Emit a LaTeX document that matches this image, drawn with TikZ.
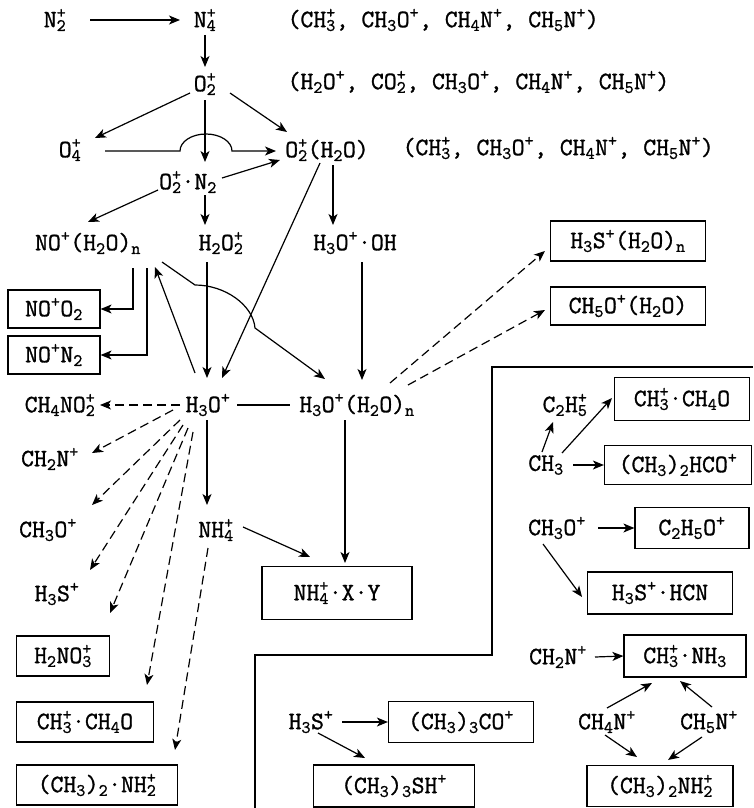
\documentclass[tikz,border=0pt]{standalone}
\usepackage{fontspec}
\setmonofont{Latin Modern Mono}[FakeBold=1.2]
\usetikzlibrary{arrows.meta}
\tikzset{every picture/.style={/utils/exec={\ttfamily}}}
\newcommand{\ilo}[1]{\textsubscript{#1}}
\newcommand{\ihi}[1]{\textsuperscript{#1}}
\newcommand{\ilh}[2]{\textsubscript{#1}\llap{\textsuperscript{#2}}}

\begin{document}
\begin{tikzpicture}[x=1pt, y=-1pt, line width=1.2pt, >={Stealth[length=11pt, width=9pt, inset=3pt]},
    every node/.style={font=\ttfamily\fontsize{25}{29}\selectfont, inner sep=2pt},
    box/.style={draw, inner sep=0pt, minimum height=40pt},
    dsh/.style={->, dash pattern=on 9pt off 5pt}]
    \useasboundingbox (0,0) rectangle (753,808);

    \node (n2) at (55, 20) {N\ilh{2}{+}};
    \node (n4) at (205, 20) {N\ilh{4}{+}};
    \node[anchor=west] (list1) at (285, 20) {(CH\ilh{3}{+}, CH\ilo{3}O\ihi{+}, CH\ilo{4}N\ihi{+}, CH\ilo{5}N\ihi{+})};
    \node (o2) at (205, 84) {O\ilh{2}{+}};
    \node[anchor=west] (list2) at (285, 82) {(H\ilo{2}O\ihi{+}, CO\ilh{2}{+}, CH\ilo{3}O\ihi{+}, CH\ilo{4}N\ihi{+}, CH\ilo{5}N\ihi{+})};
    \node (o4) at (70, 150) {O\ilh{4}{+}};
    \node (o2w) at (327, 150) {O\ilh{2}{+}(H\ilo{2}O)};
    \node[anchor=west] (list3) at (400, 148) {(CH\ilh{3}{+}, CH\ilo{3}O\ihi{+}, CH\ilo{4}N\ihi{+}, CH\ilo{5}N\ihi{+})};
    \node (o2n2) at (188, 182) {O\ilh{2}{+}·N\ilo{2}};
    \node (no) at (88, 243) {NO\ihi{+}(H\ilo{2}O)\ilo{n}};
    \node (h2o2) at (221, 243) {H\ilo{2}O\ilh{2}{+}};
    \node (h3ooh) at (355, 243) {H\ilo{3}O\ihi{+}·OH};
    \node[box, minimum width=155pt] (h3sbox) at (628, 241) {H\ilo{3}S\ihi{+}(H\ilo{2}O)\ilo{n}};
    \node[box, minimum width=155pt, minimum height=38pt] (ch5o) at (628, 306) {CH\ilo{5}O\ihi{+}(H\ilo{2}O)};
    \node[box, minimum width=92pt, minimum height=38pt] (noo2) at (54, 309) {NO\ihi{+}O\ilo{2}};
    \node[box, minimum width=92pt, minimum height=38pt] (non2) at (54, 355) {NO\ihi{+}N\ilo{2}};
    \node (ch4no2) at (60, 405) {CH\ilo{4}NO\ilh{2}{+}};
    \node (h3o) at (208, 405) {H\ilo{3}O\ihi{+}};
    \node (h3ow) at (357, 405) {H\ilo{3}O\ihi{+}(H\ilo{2}O)\ilo{n}};
    \node (ch2n) at (50, 459) {CH\ilo{2}N\ihi{+}};
    \node (ch3o) at (48, 530) {CH\ilo{3}O\ihi{+}};
    \node (h3s) at (57, 594) {H\ilo{3}S\ihi{+}};
    \node (nh4) at (216, 530) {NH\ilh{4}{+}};
    \node[box, minimum width=93pt] (h2no3) at (63, 656) {H\ilo{2}NO\ilh{3}{+}};
    \node[box, minimum width=137pt] (ch3ch4o) at (85, 722) {CH\ilh{3}{+}·CH\ilo{4}O};
    \node[box, minimum width=161pt] (ch32nh2) at (97, 785) {(CH\ilo{3})\ilo{2}·NH\ilh{2}{+}};
    \node[box, minimum width=150pt, minimum height=53pt] (nh4xy) at (337, 593) {NH\ilh{4}{+}·X·Y};

    \node (c2h5) at (565, 405) {C\ilo{2}H\ilh{5}{+}};
    \node[box, minimum width=135pt, minimum height=43pt] (ch3ch4or) at (682, 399) {CH\ilh{3}{+}·CH\ilo{4}O};
    \node (ch3r) at (546, 465) {CH\ilo{3}};
    \node[box, minimum width=147pt, minimum height=39pt] (hco) at (678, 465) {(CH\ilo{3})\ilo{2}HCO\ihi{+}};
    \node (ch3or) at (557, 528) {CH\ilo{3}O\ihi{+}};
    \node[box, minimum width=114pt, minimum height=41pt] (c2h5o) at (692, 528) {C\ilo{2}H\ilo{5}O\ihi{+}};
    \node[box, minimum width=145pt, minimum height=42pt] (hcn) at (660, 593) {H\ilo{3}S\ihi{+}·HCN};
    \node (ch2nr) at (558, 657) {CH\ilo{2}N\ihi{+}};
    \node[box, minimum width=122pt, minimum height=42pt] (nh3) at (685, 656) {CH\ilh{3}{+}·NH\ilo{3}};
    \node (ch4n) at (607, 722) {CH\ilo{4}N\ihi{+}};
    \node (ch5n) at (709, 722) {CH\ilo{5}N\ihi{+}};
    \node[box, minimum width=146pt, minimum height=41pt] (nh2r) at (660, 786) {(CH\ilo{3})\ilo{2}NH\ilh{2}{+}};
    \node (h3sm) at (311, 722) {H\ilo{3}S\ihi{+}};
    \node[box, minimum width=145pt, minimum height=41pt] (co) at (461, 722) {(CH\ilo{3})\ilo{3}CO\ihi{+}};
    \node[box, minimum width=161pt, minimum height=42pt] (sh) at (394, 786) {(CH\ilo{3})\ilo{3}SH\ihi{+}};

    \draw (255, 808) |- (492, 655) |- (753, 367);

    \draw[->] ([shift={(35,0)}]n2.center) -- ([shift={(-25,0)}]n4.center);
    \draw[->] ([shift={(0,15)}]n4.center) -- ([shift={(0,-17)}]o2.center);
    \draw[->] ([shift={(-15,9)}]o2.center) -- ([shift={(25,-12)}]o4.center);
    \draw[->] ([shift={(0,16)}]o2.center) -- ([shift={(17,-20)}]o2n2.center);
    \draw[->] ([shift={(25,9)}]o2.center) -- ([shift={(-40,-18)}]o2w.center);
    \draw[->] ([shift={(35,1)}]o4.center) -- ++(75,0) arc[start angle=180, end angle=0, x radius=26pt, y radius=17pt] -- ([shift={(-51,1)}]o2w.center);
    \draw[->] ([shift={(34,-4)}]o2n2.center) -- ([shift={(-47,10)}]o2w.center);
    \draw[->] ([shift={(-30,8)}]o2n2.center) -- ([shift={(0,-21)}]no.center);
    \draw[->] ([shift={(17,13)}]o2n2.center) -- ([shift={(-16,-18)}]h2o2.center);
    \draw[->] ([shift={(-7,13)}]o2w.center) -- ([shift={(14,-27)}]h3o.center);
    \draw[->] ([shift={(6,15)}]o2w.center) -- ([shift={(-22,-18)}]h3ooh.center);
    \draw[->] ([shift={(45,25)}]no.center) |- (noo2.east);
    \draw[->] ([shift={(59,25)}]no.center) |- (non2.east);
    \draw[->] ([shift={(-13,-32)}]h3o.center) -- ([shift={(67,24)}]no.center);
    \draw[->] ([shift={(-14,19)}]h2o2.center) -- ([shift={(-1,-27)}]h3o.center);
    \draw[->] ([shift={(74,19)}]no.center) -- ++(33,23) .. controls +(30,0) and +(-2,-23) .. ++(60,43) -- ([shift={(-32,-26)}]h3ow.center);
    \draw[->] ([shift={(7,19)}]h3ooh.center) -- ([shift={(5,-25)}]h3ow.center);
    \draw ([shift={(29,0)}]h3o.center) -- ([shift={(-67,0)}]h3ow.center);
    \draw[->] ([shift={(-12,15)}]h3ow.center) -- ([shift={(8,-30)}]nh4xy.center);
    \draw[->] ([shift={(-1,15)}]h3o.center) -- ([shift={(-9,-25)}]nh4.center);
    \draw[->] ([shift={(27,-3)}]nh4.center) -- ([shift={(-27,-36)}]nh4xy.center);

    \draw[dsh] ([shift={(-28,0)}]h3o.center) -- ([shift={(40,0)}]ch4no2.center);
    \draw[dsh] ([shift={(33,-22)}]h3ow.center) -- ([shift={(-83,10)}]h3sbox.center);
    \draw[dsh] ([shift={(51,-20)}]h3ow.center) -- ([shift={(-83,4)}]ch5o.center);
    \draw[dsh] ([shift={(-35,5)}]h3o.center) -- ([shift={(42,-6)}]ch2n.center);
    \draw[dsh] ([shift={(-28,15)}]h3o.center) -- ([shift={(44,-25)}]ch3o.center);
    \draw[dsh] ([shift={(-25,20)}]h3o.center) -- ([shift={(33,-24)}]h3s.center);
    \draw[dsh] ([shift={(-20,23)}]h3o.center) -- ([shift={(47,-43)}]h2no3.center);
    \draw[dsh] ([shift={(-15,27)}]h3o.center) -- ([shift={(62,-37)}]ch3ch4o.center);
    \draw[dsh] ([shift={(-8,18)}]nh4.center) -- ([shift={(78,-35)}]ch32nh2.center);

    \draw[->] ([shift={(-4,-13)}]ch3r.center) -- ([shift={(-12,17)}]c2h5.center);
    \draw[->] ([shift={(16,-12)}]ch3r.center) -- ([shift={(-70,-1)}]ch3ch4or.center);
    \draw[->] ([shift={(27,0)}]ch3r.center) -- (hco.west);
    \draw[->] ([shift={(41,0)}]ch3or.center) -- (c2h5o.west);
    \draw[->] ([shift={(-14,16)}]ch3or.center) -- ([shift={(-78,4)}]hcn.center);
    \draw[->] ([shift={(37,0)}]ch2nr.center) -- (nh3.west);
    \draw[->] ([shift={(0,-14)}]ch4n.center) -- ([shift={(-33,27)}]nh3.center);
    \draw[->] ([shift={(3,-15)}]ch5n.center) -- ([shift={(-5,25)}]nh3.center);
    \draw[->] ([shift={(-2,13)}]ch4n.center) -- ([shift={(-23,-29)}]nh2r.center);
    \draw[->] ([shift={(-7,15)}]ch5n.center) -- ([shift={(8,-26)}]nh2r.center);
    \draw[->] ([shift={(31,0)}]h3sm.center) -- (co.west);
    \draw[->] ([shift={(7,11)}]h3sm.center) -- ([shift={(-29,-28)}]sh.center);
\end{tikzpicture}
\end{document}
